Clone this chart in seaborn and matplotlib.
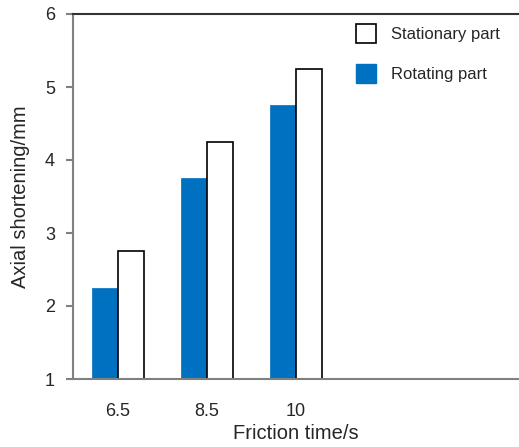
import matplotlib
matplotlib.use("Agg")
import matplotlib.pyplot as plt
import seaborn as sns
import pandas as pd
from matplotlib.patches import Patch

categories = ["6.5", "8.5", "10"]
rotating = [2.25, 3.75, 4.75]
stationary = [2.75, 4.25, 5.25]
series_names = ["Rotating part", "Stationary part"]

df = pd.DataFrame({
    "time": categories * 2,
    "value": rotating + stationary,
    "part": [series_names[0]] * 3 + [series_names[1]] * 3,
})

sns.set_style("white")
plt.rcParams["font.family"] = ["Liberation Sans", "DejaVu Sans"]

BLUE = "#0070C0"
fig = plt.figure(figsize=(5.19, 4.47), dpi=100)
ax = fig.add_axes([73 / 519, 1 - 379 / 447, 1 - 73 / 519, (379 - 14) / 447])

sns.barplot(data=df, x="time", y="value", hue="part", order=categories,
            hue_order=series_names, palette={series_names[0]: BLUE, series_names[1]: "white"},
            width=0.585, ax=ax, legend=False, saturation=1)

for bar in ax.containers[0]:
    bar.set_edgecolor(BLUE)
    bar.set_linewidth(0.5)
for bar in ax.containers[1]:
    bar.set_edgecolor("black")
    bar.set_linewidth(1.2)

ax.set_xlim(-0.5, 4.5)
ax.set_ylim(1, 6)
ax.set_yticks([1, 2, 3, 4, 5, 6])
ax.set_xticks([0, 1, 2])
ax.set_xticklabels(categories)

for s in ["left", "bottom"]:
    ax.spines[s].set_color("#808080")
    ax.spines[s].set_linewidth(1.5)
ax.spines["top"].set_color("#333333")
ax.spines["top"].set_linewidth(1.5)
ax.spines["right"].set_visible(False)

ax.tick_params(axis="y", direction="out", length=5, width=1.5, color="#808080",
               labelsize=13, pad=8, left=True)
ax.tick_params(axis="x", length=0, labelsize=13, pad=17)

ax.set_xlabel("Friction time/s", fontsize=14.5, labelpad=3.5)
ax.set_ylabel("Axial shortening/mm", fontsize=14.5, labelpad=11)

handles = [Patch(facecolor="white", edgecolor="black", linewidth=1.2),
           Patch(facecolor=BLUE, edgecolor=BLUE)]
fig.legend(handles, ["Stationary part", "Rotating part"], loc="upper left",
           bbox_to_anchor=(356 / 519, 1 - 24 / 447), frameon=False, fontsize=12,
           handlelength=1.2, handleheight=1.4, handletextpad=0.9, labelspacing=1.25,
           borderpad=0, borderaxespad=0)

fig.savefig("out.png", dpi=100)
